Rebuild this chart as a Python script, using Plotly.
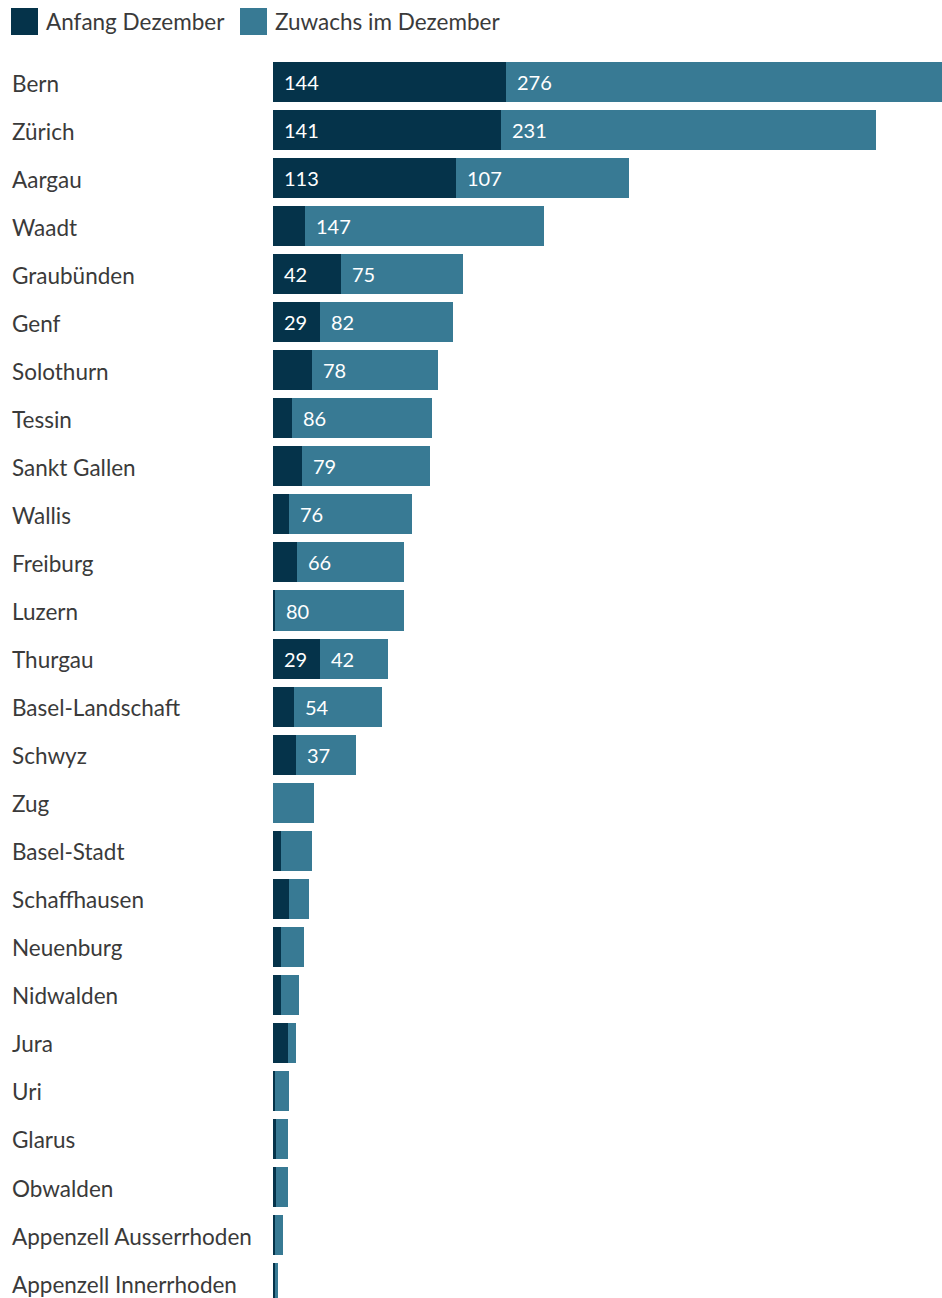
import plotly.graph_objects as go

cantons = ["Bern", "Zürich", "Aargau", "Waadt", "Graubünden", "Genf", "Solothurn", "Tessin",
           "Sankt Gallen", "Wallis", "Freiburg", "Luzern", "Thurgau", "Basel-Landschaft", "Schwyz",
           "Zug", "Basel-Stadt", "Schaffhausen", "Neuenburg", "Nidwalden", "Jura", "Uri", "Glarus",
           "Obwalden", "Appenzell Ausserrhoden", "Appenzell Innerrhoden"]
anfang = [144, 141, 113, 20, 42, 29, 24, 12, 18, 10, 15, 1, 29, 13, 14,
          0, 5, 10, 5, 5, 9, 1, 2, 2, 1, 1]
zuwachs = [276, 231, 107, 147, 75, 82, 78, 86, 79, 76, 66, 80, 42, 54, 37,
           25, 19, 12, 14, 11, 5, 9, 7, 7, 5, 2]
show_anfang = [True, True, True, False, True, True, False, False, False, False, False, False, True,
               False, False] + [False] * 11
show_zuwachs = [True] * 15 + [False] * 11
legend_names = ["Anfang Dezember", "Zuwachs im Dezember"]

DARK = "#05334a"
LIGHT = "#387a94"
FONT = "Lato"
LABEL_SIZE = 22.5
VALUE_SIZE = 20

fig = go.Figure()
fig.add_trace(go.Bar(y=cantons, x=anfang, orientation="h", marker=dict(color=DARK, line=dict(width=0)),
                     name=legend_names[0], showlegend=False, hoverinfo="x+y"))
fig.add_trace(go.Bar(y=cantons, x=zuwachs, orientation="h", marker=dict(color=LIGHT, line=dict(width=0)),
                     name=legend_names[1], showlegend=False, hoverinfo="x+y"))

ann = []
for c, a, z, sa, sz in zip(cantons, anfang, zuwachs, show_anfang, show_zuwachs):
    ann.append(dict(x=0, y=c, xref="paper", yref="y", text=c, showarrow=False, xanchor="left",
                    xshift=-263, yshift=-1, font=dict(family=FONT, size=LABEL_SIZE, color="#3a3a3a")))
    if sa:
        ann.append(dict(x=0, y=c, xref="x", yref="y", text=str(a), showarrow=False, xanchor="left",
                        xshift=9, font=dict(family=FONT, size=VALUE_SIZE, color="white")))
    if sz:
        ann.append(dict(x=a, y=c, xref="x", yref="y", text=str(z), showarrow=False, xanchor="left",
                        xshift=9, font=dict(family=FONT, size=VALUE_SIZE, color="white")))

# legend built from shapes + text
shapes = []
for nm, col, sx in [(legend_names[0], DARK, 11), (legend_names[1], LIGHT, 240)]:
    shapes.append(dict(type="rect", xref="paper", yref="paper",
                       x0=(sx - 273) / 669, x1=(sx + 27 - 273) / 669,
                       y0=1 + (58 - 35) / 1240, y1=1 + (58 - 8) / 1240,
                       fillcolor=col, line=dict(width=0)))
    ann.append(dict(x=(sx + 33 - 273) / 669, y=1 + (58 - 21) / 1240, xref="paper", yref="paper",
                    text=nm, showarrow=False, xanchor="left", yanchor="middle",
                    font=dict(family=FONT, size=LABEL_SIZE, color="#3a3a3a")))

fig.update_layout(
    barmode="stack",
    bargap=0.167,
    width=942, height=1298,
    margin=dict(l=273, r=0, t=58, b=0),
    paper_bgcolor="white", plot_bgcolor="white",
    xaxis=dict(range=[0, 669 / 1.62], showgrid=False, showticklabels=False, zeroline=False,
               showline=False, fixedrange=True),
    yaxis=dict(categoryorder="array", categoryarray=cantons, range=[25.31, -0.5],
               showticklabels=False, showgrid=False, zeroline=False, showline=False),
    annotations=ann,
    shapes=shapes,
    font=dict(family=FONT),
)
fig.write_html("out.html")
